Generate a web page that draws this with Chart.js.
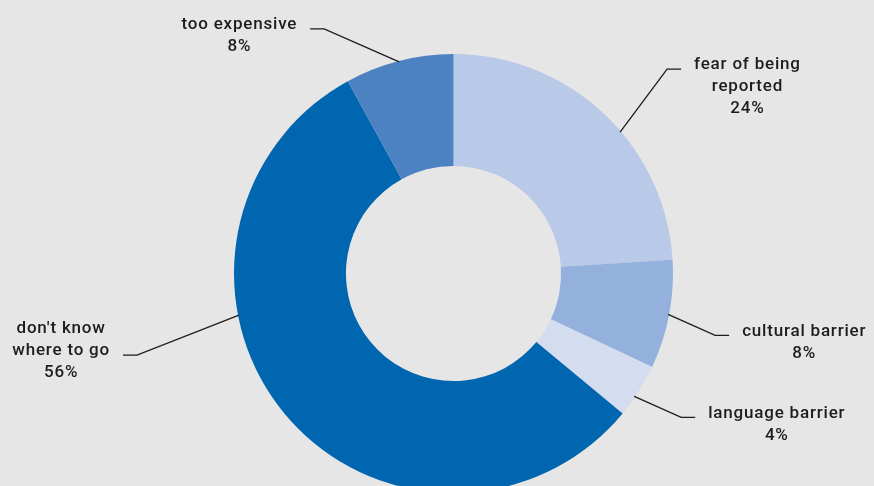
<!DOCTYPE html>
<html>
<head>
<meta charset="utf-8">
<script src="https://cdn.jsdelivr.net/npm/chart.js@4.4.0/dist/chart.umd.min.js"></script>
<style>
  html, body { margin: 0; padding: 0; background: #e6e6e6; }
  #wrap { width: 874px; height: 486px; position: relative; }
</style>
</head>
<body>
<div id="wrap"><canvas id="chart"></canvas></div>
<script>
const categories = [['fear of being', 'reported'], ['cultural barrier'], ['language barrier'], ["don't know", 'where to go'], ['too expensive']]
const shares = [24, 8, 4, 56, 8]
const percentLabels = ['24%', '8%', '4%', '56%', '8%']
const sliceColors = ['#b9c9e8', '#94b0dc', '#d4dcf0', '#0066b0', '#4c82c2']

// where the leader leaves the slice (fraction of its sweep), elbow offset, text row sitting on the line
const leaderLayout = [
  { at: 0.575, dx: 47, dy: -63, row: 0 },
  { at: 0.5, dx: 47, dy: 21, row: 0 },
  { at: 0.625, dx: 47, dy: 21, row: 0 },
  { at: 0.642, dx: -102, dy: 40, row: 1 },
  { at: 0.5, dx: -75, dy: -33, row: 0 }
]

const labelFont = '500 17px Roboto'
const lineHeight = 22

const leaderLabels = {
  id: 'leaderLabels',
  afterDatasetsDraw(chart) {
    const ctx = chart.ctx
    const arcs = chart.getDatasetMeta(0).data
    ctx.save()
    ctx.font = labelFont
    ctx.letterSpacing = '0.8px'
    ctx.fillStyle = '#1e1c1d'
    ctx.strokeStyle = '#1e1c1d'
    ctx.lineWidth = 1.3
    ctx.textAlign = 'center'
    ctx.textBaseline = 'middle'

    arcs.forEach((arc, i) => {
      const { x, y, startAngle, endAngle, outerRadius } = arc.getProps(['x', 'y', 'startAngle', 'endAngle', 'outerRadius'])
      const lay = leaderLayout[i]
      const a = startAngle + (endAngle - startAngle) * lay.at
      const ax = x + Math.cos(a) * (outerRadius - 1)
      const ay = y + Math.sin(a) * (outerRadius - 1)
      const ex = ax + lay.dx
      const ey = ay + lay.dy
      const side = lay.dx > 0 ? 1 : -1
      const endX = ex + side * 14

      ctx.beginPath()
      ctx.moveTo(ax, ay)
      ctx.lineTo(ex, ey)
      ctx.lineTo(endX, ey)
      ctx.stroke()

      const rows = categories[i].concat([percentLabels[i]])
      const maxW = Math.max(...rows.map(r => ctx.measureText(r).width))
      const cx = endX + side * (13 + maxW / 2)
      const top = ey - 4 - lay.row * lineHeight
      rows.forEach((r, k) => {
        ctx.fillText(r, cx, top + k * lineHeight)
      })
    })
    ctx.restore()
  }
}

new Chart(document.getElementById('chart'), {
  type: 'doughnut',
  data: {
    labels: categories.map(c => c.join(' ')),
    datasets: [{
      data: shares,
      backgroundColor: sliceColors,
      borderWidth: 0,
      radius: 219.5,
      cutout: '49%'
    }]
  },
  options: {
    responsive: true,
    maintainAspectRatio: false,
    animation: false,
    layout: { padding: { left: 33, top: 61, right: 0, bottom: 0 } },
    plugins: {
      legend: { display: false },
      tooltip: { enabled: false }
    }
  },
  plugins: [leaderLabels]
})
</script>
</body>
</html>
